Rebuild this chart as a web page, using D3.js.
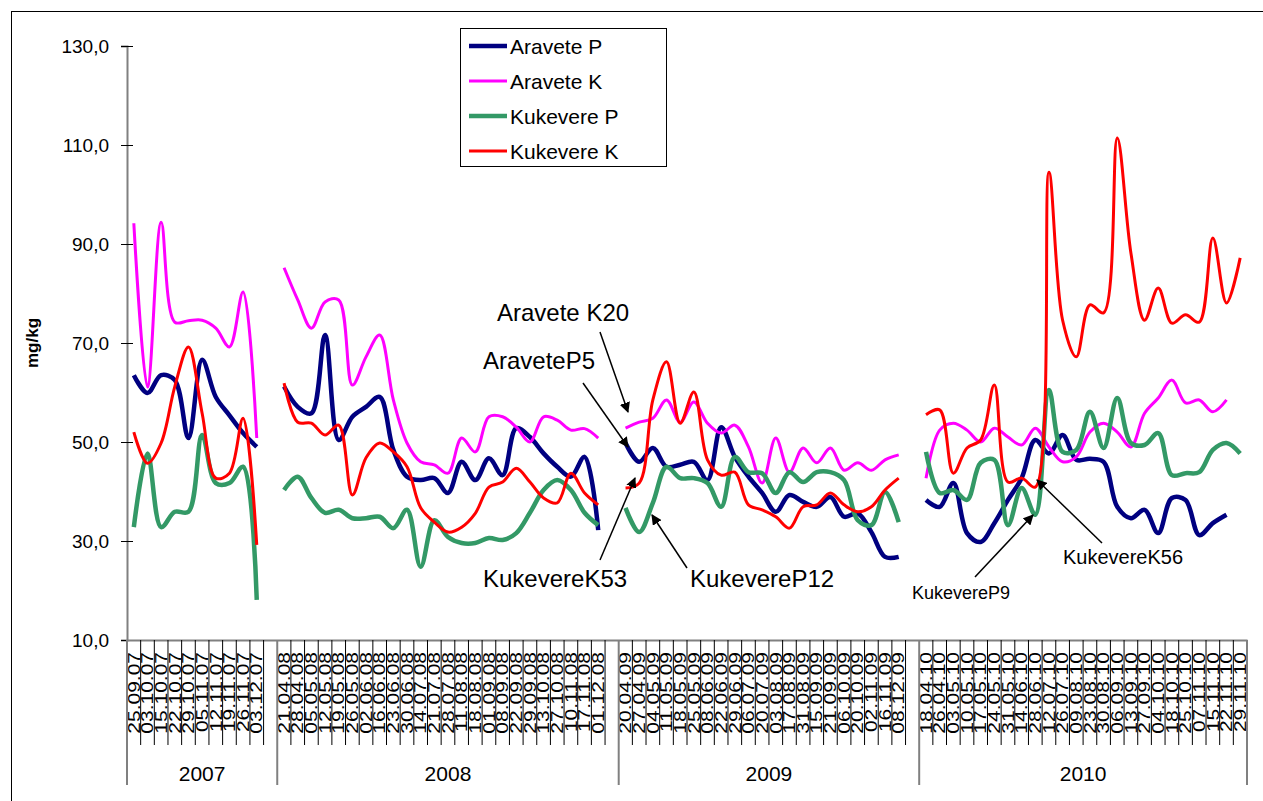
<!DOCTYPE html>
<html>
<head>
<meta charset="utf-8">
<script src="https://cdn.jsdelivr.net/npm/d3@7"></script>
<style>
body { margin: 0; background: #fff; }
svg { display: block; }
text { font-family: "Liberation Sans", Arial, sans-serif; fill: #000; }
</style>
</head>
<body>
<svg id="chart"></svg>
<script>
// category labels per year ("" = empty gap category)
const dates2007 = ["25.09.07","03.10.07","15.10.07","22.10.07","29.10.07","05.11.07","12.11.07","19.11.07","26.11.07","03.12.07",""];
const dates2008 = ["21.04.08","28.04.08","05.05.08","12.05.08","19.05.08","26.05.08","02.06.08","16.06.08","23.06.08","30.06.08","14.07.08","21.07.08","28.07.08","11.08.08","18.08.08","01.09.08","08.09.08","22.09.08","29.09.08","13.10.08","27.10.08","10.11.08","17.11.08","01.12.08",""];
const dates2009 = ["20.04.09","27.04.09","04.05.09","11.05.09","18.05.09","25.05.09","08.06.09","22.06.09","29.06.09","06.07.09","20.07.09","03.08.09","17.08.09","31.08.09","15.09.09","21.09.09","06.10.09","20.10.09","02.11.09","16.11.09","08.12.09",""];
const dates2010 = ["18.04.10","26.04.10","03.05.10","10.05.10","17.05.10","24.05.10","31.05.10","14.06.10","28.06.10","12.07.10","26.07.10","09.08.10","23.08.10","30.08.10","06.09.10","13.09.10","27.09.10","04.10.10","18.10.10","25.10.10","07.11.10","15.11.10","22.11.10","29.11.10"];
const years = ["2007","2008","2009","2010"];

const yTicks = [10, 30, 50, 70, 90, 110, 130];

const aravetePVals = [
  63.5,59.9,63.5,62.5,50.8,66.6,59.1,55.4,51.8,49.0,null,
  61.2,57.1,55.8,71.6,50.4,55.1,57.1,59.1,48.4,43.0,42.3,42.7,39.7,46.0,42.3,46.7,43.3,52.8,51.0,47.7,45.0,43.0,47.0,32.2,null,
  49.8,46.0,48.8,45.0,45.4,46.0,42.3,53.0,47.0,43.0,39.7,35.9,39.3,37.9,36.9,38.9,34.9,35.6,31.8,26.8,26.8,null,
  38.3,36.9,41.7,31.6,29.8,33.6,38.3,42.7,50.4,47.7,51.4,46.4,46.6,46.0,36.9,34.6,36.3,31.6,38.7,38.3,31.2,33.6,35.3,null
];
const araveteKVals = [
  94.2,61.1,94.4,74.2,74.5,74.6,73.0,69.2,80.3,50.8,null,
  85.2,78.7,73.0,78.3,78.7,61.5,67.2,71.6,58.5,49.8,46.0,45.4,43.7,50.8,48.0,55.1,55.1,53.0,50.0,55.1,54.4,52.4,52.7,50.8,null,
  52.8,54.0,54.8,58.5,54.0,58.1,53.8,51.8,53.4,49.0,41.7,50.8,43.9,48.8,45.8,48.8,44.3,45.8,44.3,46.4,47.4,null,
  42.7,52.4,53.8,52.4,50.0,52.8,51.0,49.4,52.8,49.0,46.0,47.0,52.0,53.8,52.0,49.0,55.8,58.9,62.5,57.9,58.5,56.1,58.5,null
];
const kukeverePVals = [
  32.8,47.7,32.8,35.9,35.9,51.4,41.7,41.7,45.0,18.1,null,
  40.3,43.0,38.7,35.7,36.3,34.6,34.6,34.9,32.6,36.3,24.8,34.2,30.8,29.6,29.6,30.6,30.2,31.6,35.7,40.3,42.3,40.3,35.7,33.2,null,
  36.7,31.8,37.7,45.0,42.7,42.7,41.7,36.9,47.0,43.9,43.7,39.7,43.9,41.9,43.9,43.9,42.3,34.2,33.2,39.9,33.8,null,
  48.0,39.7,40.3,38.3,45.8,46.4,33.2,40.7,35.3,60.5,48.0,48.4,56.1,48.8,58.9,49.8,49.4,51.8,43.3,43.7,43.9,48.4,49.8,47.7
];
const kukevereKVals = [
  52.0,45.7,49.8,61.2,69.2,55.8,42.7,43.7,54.8,29.2,null,
  61.9,54.0,53.8,51.4,53.4,39.3,46.8,49.8,48.0,45.0,36.7,33.8,31.8,32.8,35.6,40.9,41.9,44.7,41.9,38.7,37.7,43.7,39.7,37.3,null,
  40.7,41.7,58.5,66.2,53.8,60.1,46.4,43.3,43.9,37.3,36.3,34.9,32.6,36.9,37.3,39.7,37.3,35.9,36.9,40.3,42.7,null,
  55.5,56.5,43.7,48.8,50.4,61.5,41.9,42.7,40.9,104.5,74.6,67.2,77.7,76.1,111.4,88.2,74.6,81.1,74.0,75.7,74.2,91.2,78.1,87.2
];

const seriesNames = ["Aravete P","Aravete K","Kukevere P","Kukevere K"];
const seriesColors = ["#000080","#ff00ff","#339966","#ff0000"];
const seriesWidths = [4.5, 3, 4.5, 3];
const seriesVals = [aravetePVals, araveteKVals, kukeverePVals, kukevereKVals];

const yearGroups = [dates2007, dates2008, dates2009, dates2010];
const dates = [].concat(...yearGroups);

let width = 1263;
let height = 801;
let svg = d3.select("#chart").attr("width", width).attr("height", height);

// outer frame
svg.append("rect")
   .attr("x", 11.5).attr("y", 11.5)
   .attr("width", 1262).attr("height", 800)
   .attr("fill", "none").attr("stroke", "#000").attr("stroke-width", 1);

let xScale = d3.scaleBand()
               .domain(d3.range(dates.length))
               .range([127, 1247])
               .paddingInner(0).paddingOuter(0);
let yScale = d3.scaleLinear().domain([10, 130]).range([640, 46]);
let bw = xScale.bandwidth();

// y axis
let yAxis = d3.axisLeft(yScale)
              .tickValues(yTicks)
              .tickSize(6)
              .tickPadding(12)
              .tickFormat(d => d.toFixed(1).replace(".", ","));
let gy = svg.append("g").attr("transform", "translate(127,0)").call(yAxis);
gy.select(".domain").attr("stroke", "#808080").attr("stroke-width", 2);
gy.selectAll(".tick line").attr("x1", -6).attr("x2", 6).attr("stroke", "#000");
gy.selectAll(".tick text").style("font-size", "19px").style("font-family", "'Liberation Sans', Arial, sans-serif");

// y title
svg.append("text")
   .attr("transform", "translate(38,343) rotate(-90)")
   .attr("text-anchor", "middle")
   .style("font-size", "17px").style("font-weight", "bold")
   .text("mg/kg");

// x axis with rotated date labels
let xAxis = d3.axisBottom(xScale).tickSize(0).tickFormat(i => dates[i]);
let gx = svg.append("g").attr("transform", "translate(0,640)").call(xAxis);
gx.select(".domain").attr("stroke", "#808080").attr("stroke-width", 2);
gx.selectAll(".tick text")
  .attr("y", 0).attr("dy", null)
  .attr("x", -12)
  .attr("transform", "rotate(-90) scale(1,0.8)")
  .attr("text-anchor", "end")
  .attr("dominant-baseline", "central")
  .style("font-size", "21px")
  .style("font-family", "'Liberation Sans', Arial, sans-serif");

// separators between category labels
let bounds = d3.range(dates.length + 1);
let yearStarts = [0];
yearGroups.forEach((g, i) => yearStarts.push(yearStarts[i] + g.length));
svg.append("g").selectAll("line")
   .data(bounds)
   .enter().append("line")
   .attr("x1", i => xScale.range()[0] + i * bw)
   .attr("x2", i => xScale.range()[0] + i * bw)
   .attr("y1", 640)
   .attr("y2", i => yearStarts.includes(i) ? 785 : 745)
   .attr("stroke", i => yearStarts.includes(i) ? "#808080" : "#000")
   .attr("stroke-width", i => yearStarts.includes(i) ? 2 : 1);

// year labels
svg.append("g").selectAll("text")
   .data(years)
   .enter().append("text")
   .attr("x", (d, i) => xScale.range()[0] + (yearStarts[i] + yearStarts[i + 1]) / 2 * bw)
   .attr("y", 773)
   .attr("text-anchor", "middle")
   .attr("dominant-baseline", "central")
   .style("font-size", "21px")
   .text(d => d);

// series lines
let line = d3.line()
             .defined(d => d != null)
             .x((d, i) => xScale(i) + bw / 2)
             .y(d => yScale(d))
             .curve(d3.curveCatmullRom.alpha(0.5));

svg.append("g").selectAll("path")
   .data(seriesVals)
   .enter().append("path")
   .attr("d", d => line(d))
   .attr("fill", "none")
   .attr("stroke", (d, i) => seriesColors[i])
   .attr("stroke-width", (d, i) => seriesWidths[i])
   .attr("stroke-linejoin", "round");

// legend
let legend = svg.append("g");
legend.append("rect")
      .attr("x", 460.5).attr("y", 28.5).attr("width", 206).attr("height", 138)
      .attr("fill", "#fff").attr("stroke", "#000");
let rows = [46, 81, 116, 151];
seriesNames.forEach((name, i) => {
  legend.append("line")
        .attr("x1", 469).attr("x2", 507)
        .attr("y1", rows[i]).attr("y2", rows[i])
        .attr("stroke", seriesColors[i])
        .attr("stroke-width", seriesWidths[i]);
  legend.append("text")
        .attr("x", 510).attr("y", rows[i])
        .attr("dominant-baseline", "central")
        .style("font-size", "21px")
        .text(name);
});

// annotations
svg.append("defs").append("marker")
   .attr("id", "arrow")
   .attr("viewBox", "0 0 10 10")
   .attr("refX", 9).attr("refY", 5)
   .attr("markerWidth", 7).attr("markerHeight", 7)
   .attr("orient", "auto")
   .append("path").attr("d", "M0,0 L10,5 L0,10 z").attr("fill", "#000");

let notes = [
  {text: "Aravete K20", tx: 497, ty: 321, size: 24, x1: 600, y1: 332, x2: 628, y2: 412},
  {text: "AraveteP5", tx: 483, ty: 369, size: 24, x1: 583, y1: 383, x2: 628, y2: 447},
  {text: "KukevereK53", tx: 483, ty: 587, size: 24, x1: 600, y1: 560, x2: 635, y2: 478},
  {text: "KukevereP12", tx: 690, ty: 587, size: 24, x1: 687, y1: 568, x2: 652, y2: 515},
  {text: "KukevereP9", tx: 912, ty: 599, size: 18, x1: 975, y1: 577, x2: 1033, y2: 515},
  {text: "KukevereK56", tx: 1063, ty: 564, size: 20, x1: 1102, y1: 543, x2: 1037, y2: 480}
];
let ng = svg.append("g");
notes.forEach(n => {
  ng.append("line")
    .attr("x1", n.x1).attr("y1", n.y1).attr("x2", n.x2).attr("y2", n.y2)
    .attr("stroke", "#000").attr("stroke-width", 1.5)
    .attr("marker-end", "url(#arrow)");
  ng.append("text")
    .attr("x", n.tx).attr("y", n.ty)
    .style("font-size", n.size + "px")
    .text(n.text);
});
</script>
</body>
</html>
